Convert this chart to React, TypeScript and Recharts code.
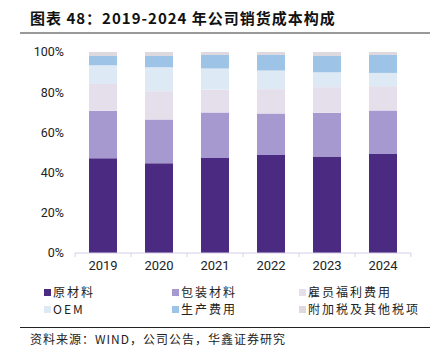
import { Bar, BarChart, XAxis, YAxis } from "recharts";

const years = ["2019", "2020", "2021", "2022", "2023", "2024"];
const rawMaterial = [47.2, 44.6, 47.3, 48.7, 48.0, 49.2];
const packaging = [23.5, 21.8, 22.6, 20.7, 21.7, 21.7];
const employeeBenefits = [13.4, 14.1, 11.4, 12.1, 12.8, 12.1];
const oem = [9.3, 11.9, 10.5, 9.3, 7.4, 6.6];
const production = [4.6, 5.6, 6.7, 7.7, 8.1, 8.9];
const taxes = [2.0, 2.0, 1.5, 1.5, 2.0, 1.5];
const yTicks = [0, 20, 40, 60, 80, 100];

const series = [
  { key: "raw", name: "原材料", color: "#4b2a82", values: rawMaterial },
  { key: "pack", name: "包装材料", color: "#a699cf", values: packaging },
  { key: "staff", name: "雇员福利费用", color: "#e5dfec", values: employeeBenefits },
  { key: "oem", name: "OEM", color: "#ddeaf6", values: oem },
  { key: "prod", name: "生产费用", color: "#9dc3e6", values: production },
  { key: "tax", name: "附加税及其他税项", color: "#ddd9de", values: taxes },
];

const data = years.map((year, i) => {
  const row: Record<string, string | number> = { year };
  series.forEach((s) => (row[s.key] = s.values[i]));
  return row;
});

const font = "'Noto Sans CJK SC', 'Noto Sans', sans-serif";

const XTick = (props: any) => {
  const { x, y, payload, index } = props;
  const half = 335 / years.length / 2;
  return (
    <g>
      <line x1={x - half} x2={x - half} y1={y - 8} y2={y - 4} stroke="#d6cce6" />
      {index === years.length - 1 && <line x1={x + half} x2={x + half} y1={y - 8} y2={y - 4} stroke="#d6cce6" />}
      <text x={x} y={y + 9} textAnchor="middle" fontSize={13} fill="#222" fontFamily="Roboto, sans-serif">
        {payload.value}
      </text>
    </g>
  );
};

const App = () => {
  return (
    <div style={{ position: "absolute", left: 0, top: 0, width: 441, height: 355, background: "#fff", fontFamily: font }}>
      <div style={{ position: "absolute", left: 30, top: 8, fontSize: 15, fontWeight: 700, color: "#111", letterSpacing: 1, lineHeight: "20px" }}>
        图表 48：2019-2024 年公司销货成本构成
      </div>
      <div style={{ position: "absolute", left: 20, top: 32, width: 410, height: 2, background: "#999" }} />
      <div style={{ position: "absolute", left: 0, top: 0 }}>
        <BarChart width={441} height={285} data={data} margin={{ top: 52, right: 30, left: 0, bottom: 2 }} barSize={28}>
          <XAxis
            dataKey="year"
            axisLine={{ stroke: "#d6cce6" }}
            tickLine={false}
            tick={<XTick />}
            height={30}
          />
          <YAxis
            width={75}
            domain={[0, 100]}
            ticks={yTicks}
            tickFormatter={(v) => `${v}%`}
            axisLine={false}
            tickLine={false}
            tickMargin={5}
            tick={{ fontSize: 12.5, fill: "#222", fontFamily: "Roboto, sans-serif" }}
          />
          {series.map((s) => (
            <Bar key={s.key} dataKey={s.key} name={s.name} stackId="a" fill={s.color} isAnimationActive={false} />
          ))}
        </BarChart>
      </div>
      {series.map((s, i) => (
        <div
          key={s.key}
          style={{
            position: "absolute",
            left: [44, 172, 299][i % 3],
            top: i < 3 ? 285 : 302,
            display: "flex",
            alignItems: "center",
            fontSize: 12,
            lineHeight: "14px",
            color: "#222",
            letterSpacing: 2,
          }}
        >
          <span style={{ width: 7, height: 7, background: s.color, marginRight: 2, display: "inline-block" }} />
          <span>{s.name}</span>
        </div>
      ))}
      <div style={{ position: "absolute", left: 20, top: 327, width: 410, height: 1, background: "#222" }} />
      <div style={{ position: "absolute", left: 30, top: 332, fontSize: 12, lineHeight: "14px", color: "#222", letterSpacing: 1 }}>
        资料来源：WIND，公司公告，华鑫证券研究
      </div>
    </div>
  );
};

export default App;
